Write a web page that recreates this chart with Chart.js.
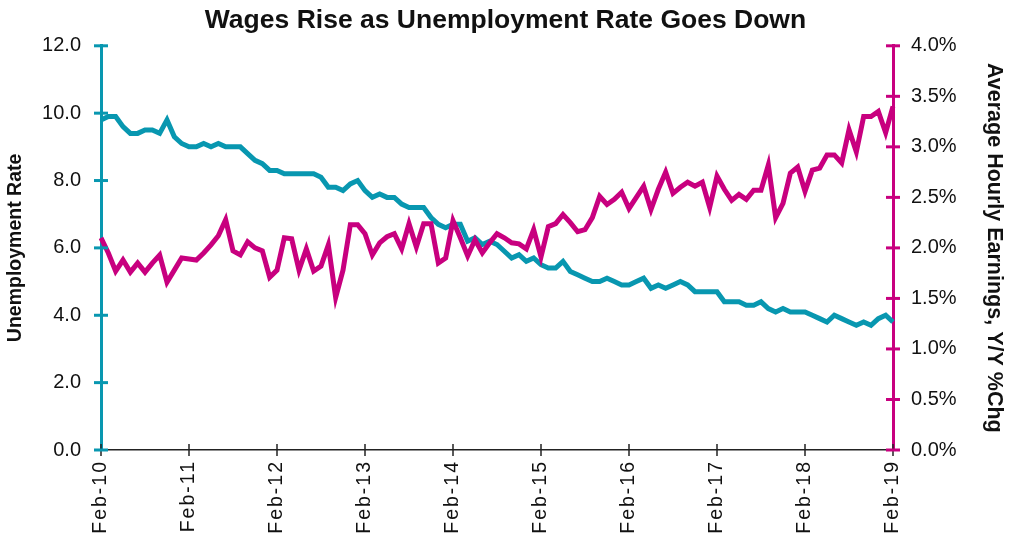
<!DOCTYPE html>
<html>
<head>
<meta charset="utf-8">
<title>Wages Rise as Unemployment Rate Goes Down</title>
<script src="https://cdn.jsdelivr.net/npm/chart.js@4"></script>
<style>
  html, body { margin: 0; padding: 0; background: #fff; }
  #wrap { width: 1011px; height: 541px; position: relative; }
</style>
</head>
<body>
<div id="wrap"><canvas id="chart"></canvas></div>
<script>
// Monthly, Feb-10 .. Feb-19 (109 points). Left axis: unemployment rate, right axis: AHE y/y %.
const years = ['10', '11', '12', '13', '14', '15', '16', '17', '18', '19'];
const monthNames = ['Jan', 'Feb', 'Mar', 'Apr', 'May', 'Jun', 'Jul', 'Aug', 'Sep', 'Oct', 'Nov', 'Dec'];

const unemployment = [
  9.8, 9.9, 9.9, 9.6, 9.4, 9.4, 9.5, 9.5, 9.4, 9.8, 9.3,          // 2010 Feb-Dec
  9.1, 9.0, 9.0, 9.1, 9.0, 9.1, 9.0, 9.0, 9.0, 8.8, 8.6, 8.5,     // 2011
  8.3, 8.3, 8.2, 8.2, 8.2, 8.2, 8.2, 8.1, 7.8, 7.8, 7.7, 7.9,     // 2012
  8.0, 7.7, 7.5, 7.6, 7.5, 7.5, 7.3, 7.2, 7.2, 7.2, 6.9, 6.7,     // 2013
  6.6, 6.7, 6.7, 6.2, 6.3, 6.1, 6.2, 6.1, 5.9, 5.7, 5.8, 5.6,     // 2014
  5.7, 5.5, 5.4, 5.4, 5.6, 5.3, 5.2, 5.1, 5.0, 5.0, 5.1, 5.0,     // 2015
  4.9, 4.9, 5.0, 5.1, 4.8, 4.9, 4.8, 4.9, 5.0, 4.9, 4.7, 4.7,     // 2016
  4.7, 4.7, 4.4, 4.4, 4.4, 4.3, 4.3, 4.4, 4.2, 4.1, 4.2, 4.1,     // 2017
  4.1, 4.1, 4.0, 3.9, 3.8, 4.0, 3.9, 3.8, 3.7, 3.8, 3.7, 3.9,     // 2018
  4.0, 3.8                                                         // 2019 Jan-Feb
];

const earnings = [
  2.10, 1.95, 1.77, 1.88, 1.76, 1.85, 1.76, 1.85, 1.93, 1.66, 1.78,
  1.90, 1.89, 1.88, 1.95, 2.03, 2.12, 2.28, 1.97, 1.93, 2.06, 2.00, 1.97,
  1.71, 1.78, 2.10, 2.09, 1.78, 1.99, 1.77, 1.82, 2.03, 1.51, 1.78, 2.23,
  2.23, 2.14, 1.93, 2.05, 2.11, 2.14, 1.99, 2.24, 2.01, 2.24, 2.24, 1.85,
  1.90, 2.27, 2.10, 1.92, 2.08, 1.95, 2.05, 2.14, 2.10, 2.05, 2.04, 1.99,
  2.18, 1.91, 2.21, 2.24, 2.33, 2.25, 2.16, 2.18, 2.30, 2.51, 2.43, 2.48,
  2.55, 2.39, 2.50, 2.61, 2.38, 2.58, 2.75, 2.54, 2.60, 2.65, 2.61, 2.65,
  2.40, 2.71, 2.58, 2.47, 2.53, 2.48, 2.57, 2.57, 2.82, 2.30, 2.44, 2.74,
  2.80, 2.56, 2.77, 2.79, 2.92, 2.92, 2.84, 3.17, 2.95, 3.30, 3.30, 3.35,
  3.14, 3.40
];

// month labels Feb-10 .. Feb-19
const months = [];
years.forEach((y, yi) => monthNames.forEach((m, mi) => {
  if ((yi === 0 && mi < 1) || (yi === years.length - 1 && mi > 1)) return;
  months.push(m + '-' + y);
}));

const TEAL = '#0897b0';
const MAGENTA = '#c8007f';
const FONT = '"Liberation Sans", Arial, sans-serif';

// tick marks that cross the axis line (the library only draws them outside)
const crossTicks = {
  id: 'crossTicks',
  beforeDraw(chart) { chart.ctx.letterSpacing = '0px'; },
  afterDatasetsDraw(chart) {
    const ctx = chart.ctx;
    const mark = (scale, color, width, half) => {
      ctx.save();
      ctx.strokeStyle = color;
      ctx.lineWidth = width;
      scale.ticks.forEach((t, i) => {
        if (t.label == null || t.label === '') return;
        const p = scale.getPixelForTick(i);
        ctx.beginPath();
        if (scale.isHorizontal()) {
          ctx.moveTo(p, scale.top - half); ctx.lineTo(p, scale.top + half);
        } else {
          const x = scale.position === 'left' ? scale.right : scale.left;
          ctx.moveTo(x - half, p); ctx.lineTo(x + half, p);
        }
        ctx.stroke();
      });
      ctx.restore();
    };
    mark(chart.scales.x, '#222', 1.5, 6);
    mark(chart.scales.y, TEAL, 3, 7);
    mark(chart.scales.y1, MAGENTA, 3, 7);
    // x tick labels are drawn after this (ticks.z = 1) — spaced out like the original
    ctx.letterSpacing = '2px';
  }
};

new Chart(document.getElementById('chart'), {
  type: 'line',
  data: {
    labels: months,
    datasets: [
      { label: 'Unemployment Rate', data: unemployment, yAxisID: 'y', order: 1,
        borderColor: TEAL, borderWidth: 5, pointRadius: 0, tension: 0 },
      { label: 'Average Hourly Earnings, Y/Y %Chg', data: earnings, yAxisID: 'y1', order: 0,
        borderColor: MAGENTA, borderWidth: 5, pointRadius: 0, tension: 0 },
    ],
  },
  options: {
    responsive: true, maintainAspectRatio: false, animation: false,
    layout: { padding: 0 },
    plugins: {
      legend: { display: false },
      tooltip: { enabled: false },
      title: { display: true, text: 'Wages Rise as Unemployment Rate Goes Down', color: '#111',
               font: { family: FONT, size: 26.5, weight: 'bold', lineHeight: 1.2 },
               padding: { top: 5, bottom: 9 } },
    },
    scales: {
      x: {
        grid: { display: false, drawTicks: false },
        border: { display: true, color: '#222', width: 1.5 },
        ticks: { autoSkip: false, minRotation: 90, maxRotation: 90, padding: 10, z: 1,
                 color: '#111', font: { family: FONT, size: 19.5 },
                 callback: (v, i) => (i % 12 === 0 ? months[i] : null) },
        afterFit: s => { s.height = 91; },
      },
      y: {
        position: 'left', min: 0, max: 12,
        grid: { display: false, drawTicks: false },
        border: { display: true, color: TEAL, width: 3 },
        ticks: { stepSize: 2, padding: 20, color: '#111', font: { family: FONT, size: 20 },
                 callback: v => v.toFixed(1) },
        title: { display: true, text: 'Unemployment Rate', color: '#111',
                 font: { family: FONT, size: 19.5, weight: 'bold' } },
        afterFit: s => { s.width = 101; },
      },
      y1: {
        position: 'right', min: 0, max: 4,
        grid: { display: false, drawTicks: false },
        border: { display: true, color: MAGENTA, width: 3 },
        ticks: { stepSize: 0.5, padding: 18, color: '#111', font: { family: FONT, size: 20 },
                 callback: v => v.toFixed(1) + '%' },
        title: { display: true, text: 'Average Hourly Earnings, Y/Y %Chg', color: '#111',
                 font: { family: FONT, size: 21.5, weight: 'bold' } },
        afterFit: s => { s.width = 118; },
      },
    },
  },
  plugins: [crossTicks],
});
</script>
</body>
</html>
